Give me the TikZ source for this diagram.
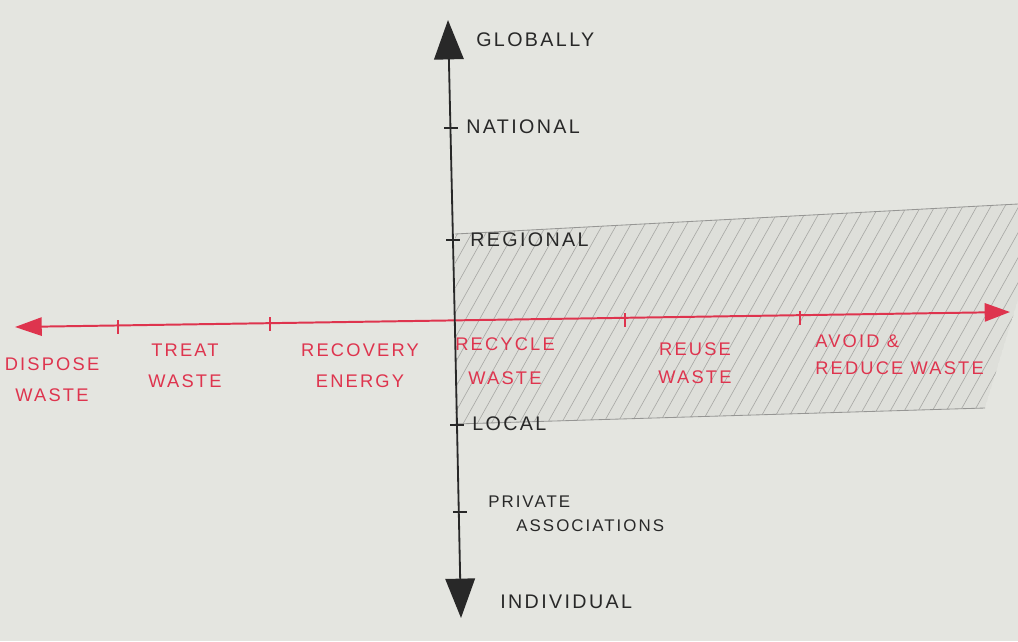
\documentclass[tikz,border=0pt]{standalone}
\usepackage{fontspec}
\setmainfont{Liberation Sans}
\newfontfamily\hand[LetterSpace=12]{Liberation Sans}
\usetikzlibrary{arrows.meta}
\definecolor{paper}{RGB}{228,229,224}
\definecolor{redink}{RGB}{222,52,78}
\definecolor{blackink}{RGB}{40,40,40}
\definecolor{pencil}{RGB}{150,150,148}
\tikzset{
  redaxis/.style={draw=redink, line width=1.4pt},
  blackaxis/.style={draw=blackink, line width=1.3pt},
  redlbl/.style={text=redink, font=\hand\fontsize{13}{17}\selectfont, align=center, inner sep=0pt},
  blacklbl/.style={text=blackink, font=\hand\fontsize{14}{18}\selectfont, align=left, inner sep=0pt, anchor=west},
  hatch/.style={draw=pencil, line width=0.45pt, opacity=0.75},
  tickr/.style={draw=redink, line width=1.1pt},
  tickb/.style={draw=blackink, line width=1pt}
}
\begin{document}
\begin{tikzpicture}[x=0.025cm, y=-0.025cm]
\fill[paper] (0,0) rectangle (1018,641);
\useasboundingbox (0,0) rectangle (1018,641);

% shaded region
\coordinate (q1) at (455,234);
\coordinate (q2) at (1018,204);
\coordinate (q3) at (985,408);
\coordinate (q4) at (455,424);
\begin{scope}
\clip (q1) -- (q2) -- (1018,300) -- (q3) -- (q4) -- cycle;
\fill[pencil, opacity=0.07] (q1) -- (q2) -- (1018,300) -- (q3) -- (q4) -- cycle;
\foreach \i in {0,...,55} {
  \draw[hatch] (300+\i*14,440) -- ++(140,-250);
}
\end{scope}
\draw[draw=pencil, line width=0.6pt] (q1) -- (q2);
\draw[draw=pencil, line width=0.6pt] (q4) -- (q3);

% horizontal axis
\coordinate (hl) at (15,327);
\coordinate (hr) at (1010,312);
\draw[redaxis, {Triangle[length=19pt,width=13pt]}-{Triangle[length=18pt,width=13pt]}] (hl) -- (hr);
\foreach \x/\y in {118/326, 270/323, 625/319, 800/317} {
  \draw[tickr] (\x,\y-6) -- (\x,\y+8);
}

% vertical axis
\coordinate (vt) at (448,20);
\coordinate (vb) at (461,618);
\draw[blackaxis, -{Triangle[length=28pt,width=21pt]}] (455,330) -- (vt);
\draw[blackaxis, -{Triangle[length=28pt,width=21pt]}] (455,330) -- (vb);
\foreach \y/\x in {128/450, 240/452, 425/456, 512/459} {
  \draw[tickb] (\x-6,\y) -- (\x+8,\y);
}

% black labels
\node[blacklbl] (glob) at (476,40) {GLOBALLY};
\node[blacklbl] (nat) at (466,127) {NATIONAL};
\node[blacklbl] (reg) at (470,240) {REGIONAL};
\node[blacklbl] (loc) at (472,424) {LOCAL};
\node[blacklbl, font=\hand\fontsize{12}{17}\selectfont] (priv) at (488,514) {\hspace*{0pt}PRIVATE\\\hspace*{20pt}ASSOCIATIONS};
\node[blacklbl] (ind) at (500,602) {INDIVIDUAL};

% red labels
\node[redlbl] (disp) at (52,380) {DISPOSE\\[5pt]WASTE};
\node[redlbl] (treat) at (185,366) {TREAT\\[5pt]WASTE};
\node[redlbl] (recov) at (360,366) {RECOVERY\\[5pt]ENERGY};
\node[redlbl] (recyc) at (505,361) {RECYCLE\\[7pt]WASTE};
\node[redlbl] (reuse) at (695,363) {REUSE\\[3pt]WASTE};
\node[redlbl, align=left, anchor=west] (avoid) at (815,355) {AVOID \&\\[2pt]REDUCE WASTE};
\end{tikzpicture}
\end{document}
